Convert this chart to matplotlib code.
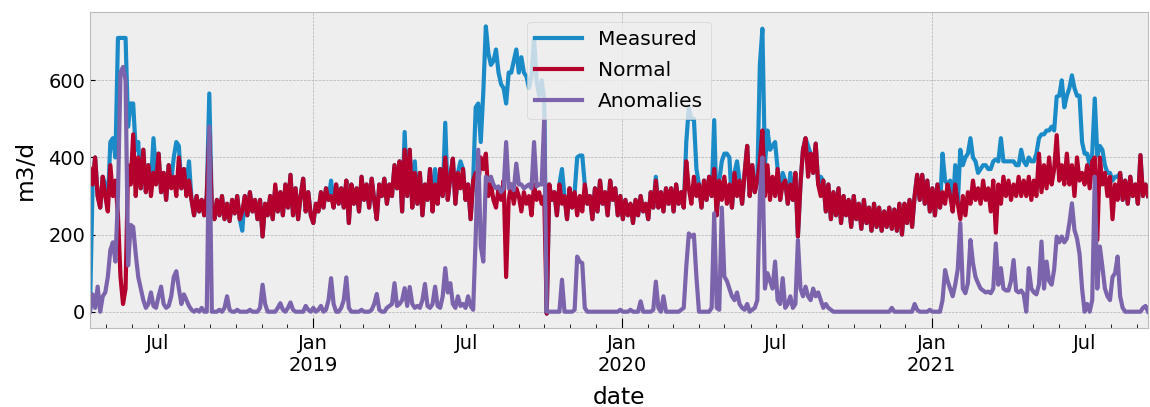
import numpy as np
import pandas as pd
import matplotlib
matplotlib.use('Agg')
from matplotlib import pyplot as plt
import matplotlib.dates as mdates
from matplotlib.ticker import FuncFormatter

# daily flow resampled to 3 day steps, starting 2018-04-12
start_date = '2018-04-12'
step = '3D'

normal = [
    370, 330, 400, 300, 270, 350, 300, 260, 380, 300,
    340, 250, 90, 20, 60, 380, 330, 460, 300, 400,
    320, 420, 310, 380, 300, 360, 330, 410, 310, 360,
    290, 380, 320, 350, 300, 400, 320, 370, 300, 340,
    290, 250, 300, 260, 290, 250, 300, 460, 270, 240,
    290, 250, 300, 240, 280, 235, 290, 255, 300, 240,
    260, 300, 250, 310, 260, 290, 240, 290, 195, 280,
    250, 300, 240, 330, 260, 310, 250, 330, 270, 355,
    250, 320, 240, 300, 345, 260, 310, 250, 230, 280,
    260, 310, 270, 320, 290, 300, 270, 330, 280, 320,
    270, 340, 230, 330, 280, 320, 260, 350, 290, 330,
    270, 345, 290, 240, 330, 300, 345, 280, 330, 300,
    380, 320, 390, 260, 420, 300, 420, 270, 360, 280,
    360, 250, 330, 290, 370, 260, 330, 280, 370, 300,
    400, 290, 350, 397, 280, 360, 320, 370, 290, 330,
    240, 340, 360, 330, 400, 370, 410, 300, 330, 290,
    270, 320, 290, 340, 90, 290, 330, 280, 320, 300,
    260, 310, 280, 300, 250, 330, 290, 310, 280, 300,
    -5, 330, 290, 310, 250, 330, 280, 300, 240, 320,
    270, 310, 250, 300, 260, 330, 280, 300, 240, 320,
    260, 340, 280, 310, 250, 340, 290, 320, 250, 300,
    240, 290, 250, 280, 230, 290, 250, 300, 260, 280,
    240, 310, 270, 340, 270, 310, 260, 320, 280, 320,
    260, 330, 280, 310, 270, 390, 320, 280, 350, 300,
    330, 270, 340, 290, 350, 300, 370, 250, 340, 290,
    350, 280, 330, 270, 360, 300, 340, 280, 360, 430,
    300, 380, 310, 340, 390, 470, 300, 380, 290, 350,
    300, 370, 290, 330, 340, 280, 330, 290, 360, 195,
    330, 420, 450, 350, 410, 360, 436, 330, 300, 340,
    260, 330, 240, 310, 250, 320, 230, 300, 250, 290,
    220, 300, 240, 280, 215, 290, 230, 270, 210, 280,
    220, 270, 210, 260, 220, 270, 215, 265, 210, 280,
    200, 280, 230, 290, 220, 300, 355, 290, 355, 280,
    340, 260, 320, 250, 330, 270, 310, 280, 330, 300,
    260, 330, 280, 240, 300, 250, 310, 280, 340, 290,
    320, 280, 340, 290, 320, 260, 340, 205, 330, 280,
    350, 300, 340, 290, 330, 300, 350, 300, 340, 300,
    350, 290, 340, 300, 410, 310, 380, 320, 400, 330,
    370, 458, 340, 380, 330, 410, 330, 380, 300, 400,
    340, 360, 330, 380, 320, 390, 400, 186, 400, 330,
    360, 300, 350, 240, 330, 290, 360, 290, 340, 280,
    350, 300, 330, 280, 406, 300, 330, 300,
]

anomalies = [
    0, 45, 10, 65, 0, 40, 50, 90, 160, 180,
    130, 300, 620, 635, 600, 120, 225, 220, 150, 90,
    60, 30, 10, 20, 50, 15, 10, 40, 65, 20,
    10, 15, 40, 90, 105, 60, 20, 45, 30, 15,
    5, 0, 5, 0, 10, 0, 0, 480, 0, 0,
    0, 5, 0, 10, 40, 5, 0, 0, 5, 0,
    0, 0, 0, 5, 0, 0, 0, 10, 70, 20,
    0, 0, 0, 0, 10, 22, 5, 0, 10, 24,
    5, 0, 0, 0, 0, 15, 5, 0, 10, 0,
    5, 15, 0, 5, 30, 87, 20, 0, 0, 10,
    30, 89, 10, 0, 0, 0, 0, 5, 0, 0,
    0, 5, 20, 46, 5, 0, 0, 10, 15, 20,
    74, 15, 20, 30, 61, 15, 64, 20, 10, 15,
    10, 30, 72, 15, 10, 20, 65, 15, 10, 40,
    113, 50, 74, 20, 10, 40, 15, 20, 10, 40,
    15, 5, 195, 420, 170, 130, 350, 340, 350, 330,
    320, 325, 310, 320, 440, 320, 330, 315, 384, 330,
    330, 320, 325, 330, 320, 440, 325, 330, 330, 500,
    0, 0, 0, 0, 0, 0, 83, 0, 0, 0,
    0, 5, 143, 130, 126, 10, 0, 0, 0, 0,
    0, 0, 0, 0, 0, 0, 0, 0, 0, 5,
    0, 0, 0, 5, 0, 0, 0, 27, 0, 0,
    0, 0, 5, 78, 10, 0, 40, 0, 0, 0,
    0, 0, 0, 5, 10, 117, 203, 195, 200, 90,
    0, 0, 0, 0, 0, 10, 255, 10, 5, 270,
    91, 80, 60, 40, 30, 50, 20, 10, 5, 20,
    0, 5, 10, 30, 300, 400, 60, 100, 80, 60,
    130, 30, 20, 87, 10, 20, 40, 10, 20, 186,
    60, 40, 65, 40, 30, 60, 40, 50, 30, 10,
    20, 10, 5, 0, 0, 0, 0, 0, 0, 0,
    0, 0, 0, 0, 0, 0, 0, 0, 0, 0,
    0, 0, 0, 0, 0, 0, 10, 0, 0, 0,
    0, 0, 0, 0, 0, 20, 5, 0, 0, 0,
    0, 5, 0, 0, 0, 0, 30, 108, 80, 60,
    40, 70, 110, 230, 60, 48, 74, 186, 126, 90,
    74, 60, 55, 50, 52, 48, 60, 177, 70, 113,
    60, 55, 55, 80, 134, 55, 50, 55, 45, 0,
    113, 60, 50, 45, 70, 182, 60, 130, 80, 70,
    110, 195, 180, 195, 180, 190, 230, 281, 212, 190,
    150, 60, 0, 20, 0, 30, 350, 60, 169, 117,
    60, 40, 30, 90, 100, 143, 40, 10, 0, 0,
    0, 0, 0, 0, 0, 10, 15, 0,
]

# measured minus normal
excess = [
    -360, 0, 0, 0, 0, 0, 30, 20, 60, 150,
    60, 460, 620, 690, 650, 100, 210, 80, 120, 40,
    0, 0, 0, 0, 30, 90, 30, 0, 0, 0,
    0, 0, 20, 50, 140, 30, 0, 0, 30, 50,
    0, 0, 0, 0, 0, 0, 0, 106, 0, 0,
    0, 0, 0, 0, 0, 0, 0, 0, 0, 0,
    -50, 0, 0, 0, 0, 0, 0, 0, 0, 0,
    0, 0, 0, -10, 0, 0, 0, 0, 0, 0,
    0, 0, 0, 0, 0, 0, 0, 0, 0, 0,
    0, 0, 0, 0, 0, 40, 0, 0, 0, 0,
    0, 0, 0, 0, 0, 0, 0, 0, 0, 0,
    0, 0, 0, 0, 0, 0, 0, 0, 0, 0,
    0, 0, 0, 0, 46, 0, 0, 0, 30, 0,
    0, 0, 0, 0, 0, 0, 40, 0, 0, 0,
    90, 0, 0, 0, 0, 0, 70, 0, 0, 0,
    0, 0, 170, 210, 40, 200, 330, 370, 310, 360,
    410, 300, 300, 240, 450, 330, 290, 370, 360, 320,
    400, 310, 330, 280, 360, 380, 310, 250, 320, 250,
    0, 0, 0, 0, 0, 0, 90, 0, 0, 0,
    0, 0, 150, 105, 145, 0, 0, 0, 0, 0,
    0, 0, 0, 0, 0, 0, 0, 0, 0, 0,
    0, 0, 0, 0, 0, 0, 0, 0, 0, 0,
    0, 0, 0, 10, 0, 0, 0, 0, 0, 0,
    0, 0, 0, 0, 0, 50, 210, 220, 150, 70,
    0, 0, 0, 0, 0, 0, 127, 0, 0, 100,
    60, 130, 70, 0, 0, 90, 0, 0, 0, 0,
    0, 0, 0, 0, 250, 264, 80, 90, 130, 80,
    140, 0, 0, 30, 0, 0, 30, 0, 0, 0,
    0, 0, 0, 80, 0, 0, 0, 0, 50, 0,
    0, 0, 0, 0, 0, 0, 0, 0, 0, 0,
    0, 0, 0, 0, 0, 0, 0, 0, 0, 0,
    0, 0, 0, 0, 0, 0, 0, 0, 0, 0,
    0, 0, 0, 0, 0, 0, 0, 0, 0, 0,
    0, 0, 0, 0, 0, 0, 100, 60, 0, 40,
    0, 50, 0, 180, 80, 150, 100, 170, 60, 100,
    40, 90, 40, 90, 50, 110, 50, 190, 60, 170,
    40, 90, 50, 100, 60, 80, 30, 120, 50, 80,
    50, 100, 50, 110, 40, 150, 80, 150, 70, 150,
    100, 100, 220, 220, 200, 150, 250, 233, 280, 160,
    220, 80, 80, 30, 60, 20, 153, 220, 30, 90,
    20, 60, 10, 100, 20, 60, 0, 0, 0, 0,
    0, 0, 0, 0, 0, 0, 0, 0,
]

series_names = ['Measured', 'Normal', 'Anomalies']
series_colors = ['#1a8bc7', '#b3002d', '#7b64ab']


def month_label(x, pos):
    d = mdates.num2date(x)
    if d.month == 7:
        return 'Jul'
    return ''


def year_label(x, pos):
    d = mdates.num2date(x)
    return 'Jan\n{}'.format(d.year)


def main():
    plt.style.use('bmh')
    plt.rcParams['font.size'] = 14
    plt.rcParams['axes.labelsize'] = 16.8

    dates = pd.date_range(start_date, periods=len(normal), freq=step)
    norm = np.array(normal, dtype=float)
    anom = np.array(anomalies, dtype=float)
    meas = norm + np.array(excess, dtype=float)

    fig = plt.figure(figsize=(11.5, 4.07), dpi=100)
    ax = fig.add_axes([0.0783, 0.1941, 0.92, 0.7764])

    for values, name, color in zip([meas, norm, anom], series_names, series_colors):
        ax.plot(dates, values, color=color, lw=3, label=name)

    ax.set_xlim(dates[0], dates[-1])
    ax.set_yticks([0, 200, 400, 600])

    ax.xaxis.set_major_locator(mdates.MonthLocator(bymonth=[1]))
    ax.xaxis.set_major_formatter(FuncFormatter(year_label))
    ax.xaxis.set_minor_locator(mdates.MonthLocator())
    ax.xaxis.set_minor_formatter(FuncFormatter(month_label))
    ax.tick_params(axis='x', which='major', length=7, pad=4)
    ax.tick_params(axis='x', which='minor', length=3, pad=4)
    ax.grid(True, which='major', axis='both')
    ax.grid(False, which='minor')

    ax.set_xlabel('date', labelpad=8)
    ax.set_ylabel('m3/d', labelpad=8)

    ax.legend(loc='upper center', fontsize=14.5, handlelength=2.3,
              labelspacing=0.6)

    plt.savefig('out.png', dpi=100)


if __name__ == "__main__":
    main()
